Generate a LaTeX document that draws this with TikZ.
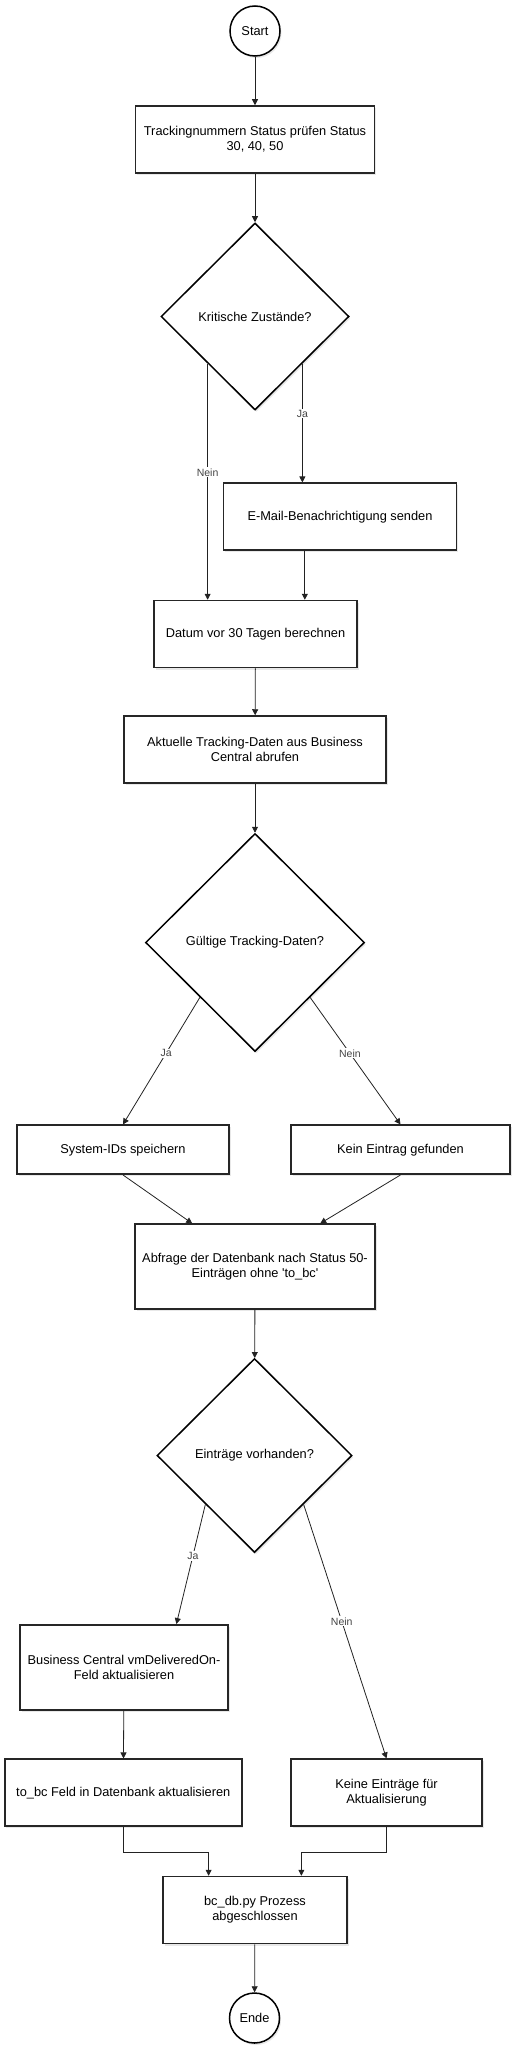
\documentclass[tikz,border=0pt]{standalone}
\usepackage{fontspec}
\setmainfont{Liberation Sans}[Ligatures=TeXOff]
\usepackage{tikz}
\usetikzlibrary{positioning,calc,shapes.geometric,arrows.meta,shadows}
\definecolor{flowline}{HTML}{222222}
\definecolor{flowlbl}{HTML}{444444}

\begin{document}
\begin{tikzpicture}[x=1pt,y=-1pt,
  procBox/.style ={rectangle, draw=black!85, line width=1.5pt, fill=white, align=center,
                   inner sep=0pt, font=\fontsize{12.8}{15}\selectfont,
                   drop shadow={shadow xshift=1.5pt, shadow yshift=-2pt, opacity=0.18}},
  decision/.style={diamond, aspect=1, draw=black, line width=1.5pt, fill=white, align=center,
                   inner sep=0pt, font=\fontsize{12.8}{15}\selectfont,
                   drop shadow={shadow xshift=1.5pt, shadow yshift=-2pt, opacity=0.18}},
  term/.style    ={circle, draw=black, line width=1.5pt, fill=white, minimum size=50pt,
                   inner sep=0pt, font=\fontsize{12.8}{15}\selectfont,
                   drop shadow={shadow xshift=1.5pt, shadow yshift=-2pt, opacity=0.18}},
  arr/.style     ={-{Triangle[length=6pt,width=6pt]}, line width=0.8pt, color=flowline},
  lbl/.style     ={fill=white, inner sep=1pt, text=flowlbl, font=\fontsize{10.5}{12}\selectfont},
]
\useasboundingbox (0,0) rectangle (517,2052);
% top part: check, decision, mail
\node[term] (start) at (255,31) {Start};
\node[procBox, minimum width=239pt, minimum height=67pt] (track) at (255,139.5)
  {Trackingnummern Status prüfen Status\\30, 40, 50};
\node[decision, minimum width=188pt, minimum height=187pt] (krit) at (255,316.5) {Kritische Zustände?};
\node[procBox, minimum width=233pt, minimum height=67pt] (mail) at (340,516.7) {E-Mail-Benachrichtigung senden};
\node[procBox, minimum width=203pt, minimum height=67pt] (datum) at (255.5,634) {Datum vor 30 Tagen berechnen};
\node[procBox, minimum width=262pt, minimum height=67pt] (akt) at (255,749.5)
  {Aktuelle Tracking-Daten aus Business\\Central abrufen};
% middle part: tracking data
\node[decision, minimum width=219pt, minimum height=218pt] (gueltig) at (255,942.5) {Gültige Tracking-Daten?};
\node[procBox, minimum width=212pt, minimum height=49pt] (ids) at (123,1149.7) {System-IDs speichern};
\node[procBox, minimum width=219pt, minimum height=49pt] (kein) at (400.5,1149.7) {Kein Eintrag gefunden};
\node[procBox, minimum width=240pt, minimum height=85pt] (abfr) at (255,1266.7)
  {Abfrage der Datenbank nach Status 50-\\Einträgen ohne 'to\_bc'};
% bottom part: update entries
\node[decision, minimum width=195pt, minimum height=194pt] (vorh) at (254.5,1455.5) {Einträge vorhanden?};
\node[procBox, minimum width=208pt, minimum height=85pt] (bcupd) at (124,1667.3)
  {Business Central vmDeliveredOn-\\Feld aktualisieren};
\node[procBox, minimum width=237pt, minimum height=67pt] (tobc) at (123.3,1792.7) {to\_bc Feld in Datenbank aktualisieren};
\node[procBox, minimum width=191pt, minimum height=67pt] (keine) at (386.5,1792.7) {Keine Einträge für\\Aktualisierung};
\node[procBox, minimum width=184pt, minimum height=67pt] (fertig) at (255,1910) {bc\_db.py Prozess\\abgeschlossen};
\node[term] (ende) at (254.5,2018) {Ende};

% exit points on the diamond edges
\coordinate (kritNo) at ($(krit.south)!0.5!(krit.west)$);
\coordinate (kritYes) at ($(krit.south)!0.5!(krit.east)$);
\coordinate (mailOut) at ($(mail.south west)!0.35!(mail.south east)$);
\coordinate (gueltigYes) at ($(gueltig.south)!0.5!(gueltig.west)$);
\coordinate (gueltigNo) at ($(gueltig.south)!0.5!(gueltig.east)$);
\coordinate (abfrL) at ($(abfr.north west)!0.24!(abfr.north east)$);
\coordinate (abfrR) at ($(abfr.north west)!0.77!(abfr.north east)$);
\coordinate (vorhYes) at ($(vorh.south)!0.5!(vorh.west)$);
\coordinate (vorhNo) at ($(vorh.south)!0.5!(vorh.east)$);
\coordinate (bcIn) at ($(bcupd.north west)!0.75!(bcupd.north east)$);
\coordinate (fertigL) at ($(fertig.north west)!0.25!(fertig.north east)$);
\coordinate (fertigR) at ($(fertig.north west)!0.75!(fertig.north east)$);

\draw[arr] (start) -- (track);
\draw[arr] (track) -- (krit);
\draw[arr] (kritNo) -- node[lbl, pos=0.46] {Nein} (kritNo |- datum.north);
\draw[arr] (kritYes) -- node[lbl, pos=0.42] {Ja} (kritYes |- mail.north);
\draw[arr] (mailOut) -- (mailOut |- datum.north);
\draw[arr] (datum) -- (akt);
\draw[arr] (akt) -- (gueltig);
\draw[arr] (gueltigYes) -- node[lbl, pos=0.44] {Ja} (ids.north);
\draw[arr] (gueltigNo) -- node[lbl, pos=0.44] {Nein} (kein.north);
\draw[arr] (ids.south) -- (abfrL);
\draw[arr] (kein.south) -- (abfrR);
\draw[arr] (abfr) -- (vorh);
\draw[arr] (vorhYes) -- node[lbl, pos=0.43] {Ja} (bcIn);
\draw[arr] (vorhNo) -- node[lbl, pos=0.46] {Nein} (keine.north);
\draw[arr] (bcupd) -- (tobc);
\draw[arr] (tobc.south) -- ++(0,25) -| (fertigL);
\draw[arr] (keine.south) -- ++(0,25) -| (fertigR);
\draw[arr] (fertig) -- (ende);
\end{tikzpicture}
\end{document}
